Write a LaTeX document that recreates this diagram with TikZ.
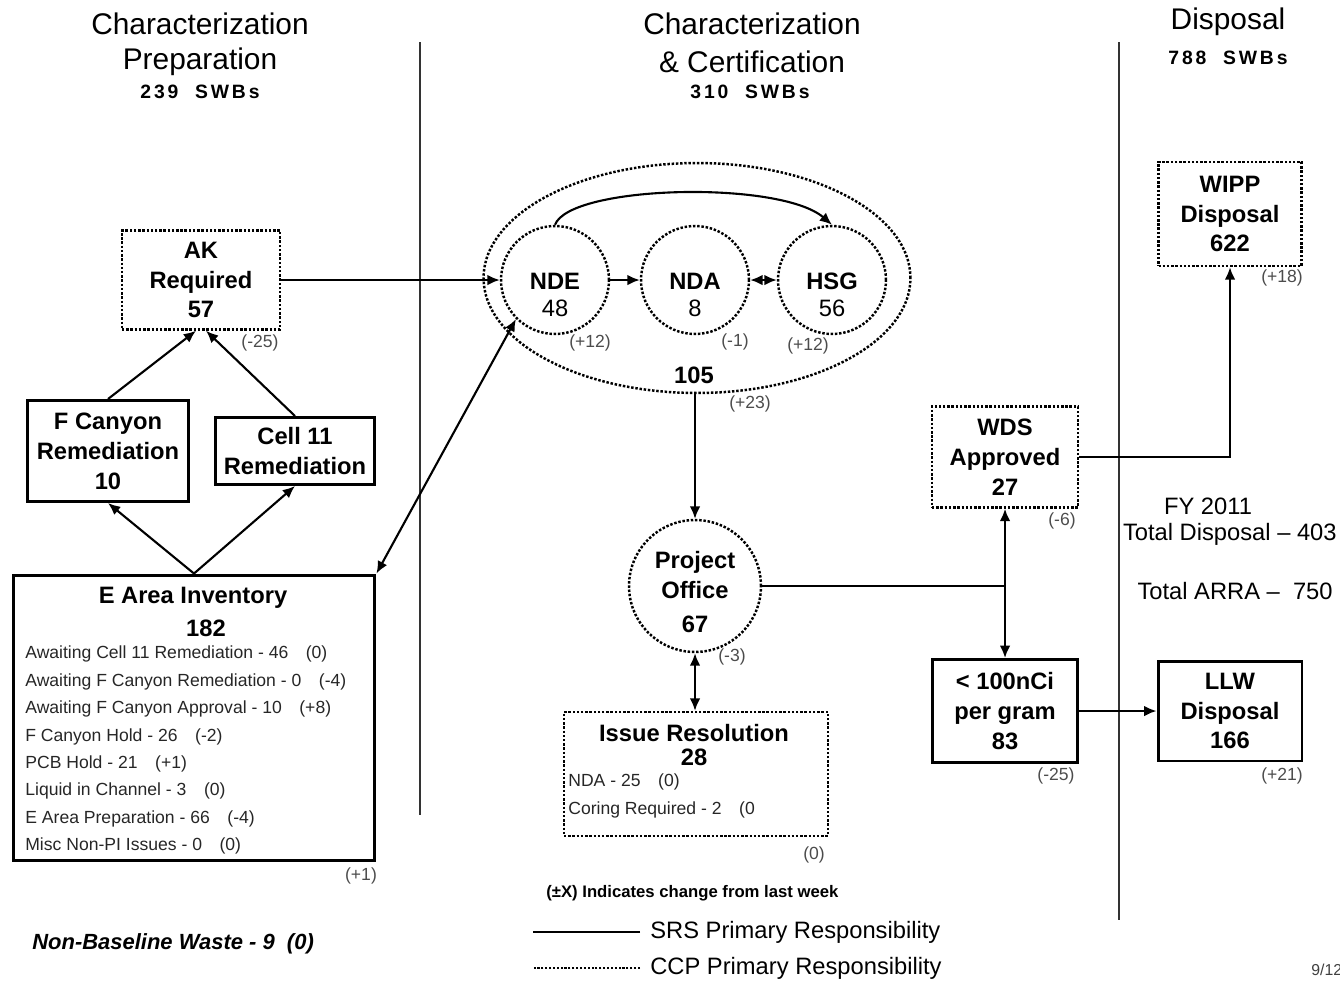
\documentclass[tikz,border=0pt]{standalone}
\usepackage{fontspec}
\setmainfont{Liberation Sans}
\newfontfamily\spacedfont{Liberation Sans}[LetterSpace=15]
\usetikzlibrary{arrows.meta,shapes.geometric}

\begin{document}
\begin{tikzpicture}[x=0.02cm,y=-0.02cm,
  every node/.style={inner sep=0pt},
  boxfont/.style={font=\fontsize{13.5}{17}\selectfont\bfseries},
  solidbox/.style={draw,line width=1.7pt,align=center,boxfont},
  dotbox/.style={draw,densely dotted,line width=1.4pt,align=center,boxfont},
  dotcircle/.style={dotbox,circle},
  circletext/.style={boxfont,align=center,yshift=-0.3cm},
  conn/.style={line width=1.2pt,-{Latex[length=7pt,width=6pt]}},
  twoway/.style={line width=1.2pt,{Latex[length=7pt,width=6pt]}-{Latex[length=7pt,width=6pt]}},
  change/.style={font=\fontsize{10}{12}\selectfont,text=black!70},
  listline/.style={font=\fontsize{10}{12}\selectfont,anchor=west,text=black!85},
  heading/.style={font=\fontsize{17}{20}\selectfont},
  swbs/.style={font=\spacedfont\bfseries\fontsize{11}{13}\selectfont},
  totals/.style={font=\fontsize{13.5}{16}\selectfont},
  legend/.style={font=\fontsize{13.5}{16}\selectfont,anchor=west}]
  \useasboundingbox (0,0) rectangle (1340,981);

  \node[heading] (prep1) at (200,24) {Characterization};
  \node[heading] (prep2) at (200,62) {Preparation};
  \node[swbs] (prep3) at (200,92) {239~~SWBs};
  \node[heading] (cert1) at (752,24) {Characterization};
  \node[heading] (cert2) at (752,62) {\& Certification};
  \node[swbs] (cert3) at (750,92) {310~~SWBs};
  \node[heading] (disp1) at (1228,22) {Disposal};
  \node[swbs] (disp2) at (1228,58) {788~~SWBs};
  \draw[line width=0.8pt,black!80] (420,42) -- (420,815);
  \draw[line width=0.8pt,black!80] (1119,42) -- (1119,920);

  \node[dotbox,minimum width=3.16cm,minimum height=1.98cm] (ak) at (201,280) {AK\\Required\\57};
  \node[solidbox,minimum width=3.22cm,minimum height=2.02cm] (fcan) at (108,451) {F Canyon\\Remediation\\10};
  \node[solidbox,minimum width=3.2cm,minimum height=1.34cm] (cell) at (295,451) {Cell 11\\Remediation};
  \node[solidbox,minimum width=7.24cm,minimum height=5.72cm] (inv) at (194,718) {};
  \node[boxfont] (invtitle) at (193,598) {E Area Inventory};
  \node[boxfont] (invnum) at (206,628) {182};
  \foreach \txt [count=\i] in {Awaiting Cell 11 Remediation - 46\quad(0),
      Awaiting F Canyon Remediation - 0\quad(-4),
      Awaiting F Canyon Approval - 10\quad(+8),
      F Canyon Hold - 26\quad(-2),
      PCB Hold - 21\quad(+1),
      Liquid in Channel - 3\quad(0),
      E Area Preparation - 66\quad(-4),
      Misc Non-PI Issues - 0\quad(0)}
    \node[listline] at (25,627+27.4*\i) {\txt};

  \node[draw,densely dotted,line width=1.4pt,ellipse,minimum width=8.54cm,minimum height=4.6cm] (cc) at (697,278) {};
  \node[dotcircle,minimum size=2.16cm] (nde) at (555,280) {};
  \node[dotcircle,minimum size=2.16cm] (nda) at (695,280) {};
  \node[dotcircle,minimum size=2.16cm] (hsg) at (832,280) {};
  \node[circletext] at (nde) {NDE\\[-2pt]{\mdseries 48}};
  \node[circletext] at (nda) {NDA\\[-2pt]{\mdseries 8}};
  \node[circletext] at (hsg) {HSG\\[-2pt]{\mdseries 56}};
  \node[boxfont] (cctotal) at (694,375) {105};

  \node[dotcircle,minimum size=2.64cm] (po) at (695,586) {};
  \node[boxfont,align=center,yshift=-0.12cm] at (po) {Project\\Office\\[2pt]67};
  \node[dotbox,minimum width=5.28cm,minimum height=2.48cm] (iss) at (696,774) {};
  \node[boxfont] (isstitle) at (694,733) {Issue Resolution};
  \node[boxfont] (issnum) at (694,757) {28};
  \node[listline] at (568,782) {NDA - 25\quad(0)};
  \node[listline] at (568,810) {Coring Required - 2\quad(0};

  \node[dotbox,minimum width=2.92cm,minimum height=2.02cm] (wds) at (1005,457) {WDS\\Approved\\27};
  \node[dotbox,minimum width=2.86cm,minimum height=2.08cm] (wipp) at (1230,214) {WIPP\\Disposal\\622};
  \node[solidbox,minimum width=2.9cm,minimum height=2.06cm] (nci) at (1005,711) {< 100nCi\\per gram\\83};
  \node[solidbox,minimum width=2.88cm,minimum height=2cm] (llw) at (1230,711) {LLW\\Disposal\\166};

  \foreach \px/\py/\txt in {260/343/-25, 361/876/+1, 590/343/+12, 735/342/-1,
      808/346/+12, 750/404/+23, 732/657/-3, 814/855/0, 1062/521/-6,
      1282/278/+18, 1056/776/-25, 1282/776/+21}
    \node[change] at (\px,\py) {(\txt)};

  \draw[conn] (fcan.north) -- ([xshift=-0.1cm]ak.south);
  \draw[conn] (cell.north) -- ([xshift=0.1cm]ak.south);
  \draw[conn] (inv.north) -- (fcan.south);
  \draw[conn] (inv.north) -- (cell.south);
  \draw[twoway] (inv.north east) -- (nde.south west);
  \draw[conn] (ak.east) -- (nde.west);
  \draw[conn] (nde.east) -- (nda.west);
  \draw[twoway] (nda.east) -- (hsg.west);
  \draw[conn] (nde.north) .. controls (570,185) and (780,180) .. (hsg.north);
  \draw[conn] (po.north |- cc.south) -- (po.north);
  \draw[twoway] (po.south) -- (po.south |- iss.north);
  \draw[line width=1.2pt] (po.east) -- (po.east -| wds.south) coordinate (split);
  \draw[conn] (split) -- (wds.south);
  \draw[conn] (split) -- (nci.north);
  \draw[conn] (wds.east) -| (wipp.south);
  \draw[conn] (nci.east) -- (llw.west);

  \node[totals] (fy) at (1208,506) {FY 2011};
  \node[totals,anchor=east] (totdisp) at (1337,534) {Total Disposal – 403};
  \node[totals,anchor=east] (totarra) at (1333,591) {Total ARRA –\ \ 750};

  \node[font=\fontsize{9.5}{11}\selectfont\bfseries,anchor=west] (note) at (546,893) {(±X) Indicates change from last week};
  \node[legend] (srs) at (650,932) {SRS Primary Responsibility};
  \node[legend] (ccp) at (650,968) {CCP Primary Responsibility};
  \draw[line width=1.2pt] ([xshift=-0.2cm]srs.west) -- ++(-107,0);
  \draw[densely dotted,line width=1.2pt] ([xshift=-0.2cm]ccp.west) -- ++(-107,0);
  \node[font=\fontsize{12.5}{15}\selectfont\bfseries\itshape,anchor=west] (nonbase) at (32,944) {Non-Baseline Waste - 9~~(0)};
  \node[font=\fontsize{9}{11}\selectfont,anchor=west,text=black!75] (page) at (1311,970) {9/12};
\end{tikzpicture}
\end{document}
